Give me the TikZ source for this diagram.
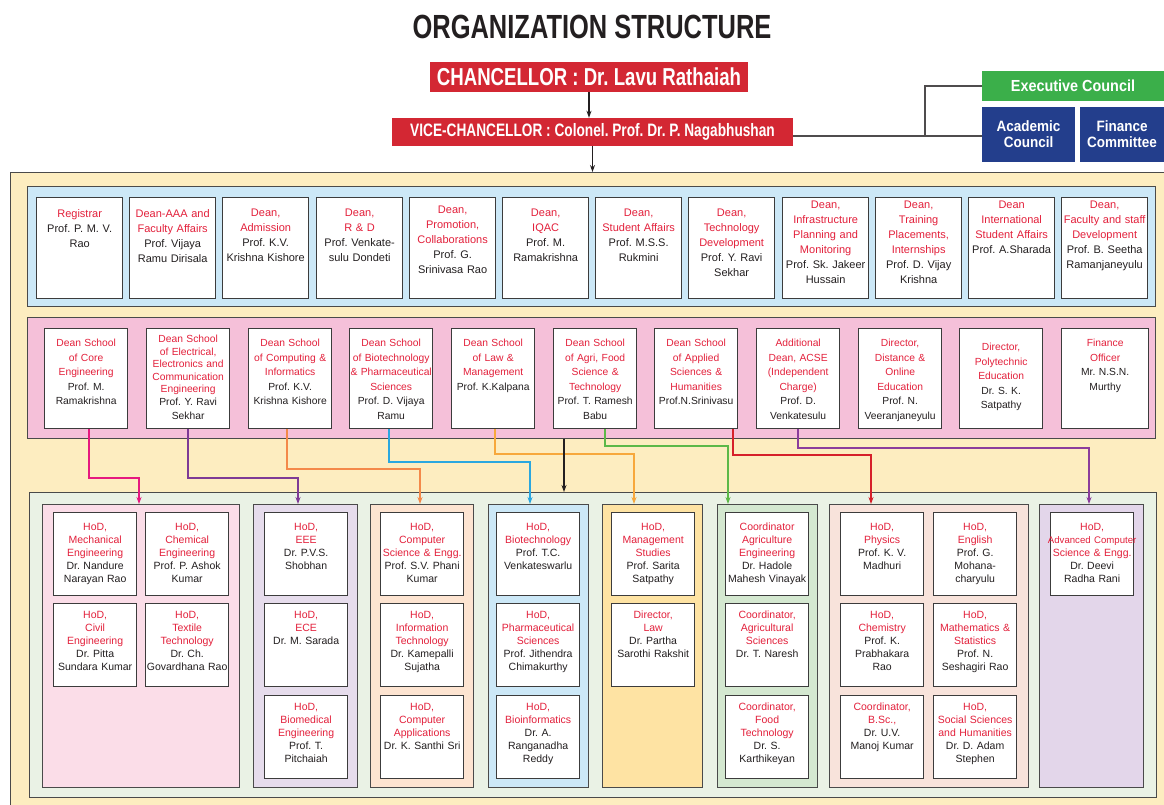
\documentclass[tikz,border=0pt]{standalone}
\usepackage{fontspec}
\setmainfont{Liberation Sans}
\newfontfamily\cond[FakeStretch=0.76]{Liberation Sans}
\newfontfamily\semicond[FakeStretch=0.9]{Liberation Sans}
\usetikzlibrary{arrows.meta}
\frenchspacing
\definecolor{ink}{HTML}{231F20}
\definecolor{hred}{HTML}{E3203B}
\definecolor{boxred}{HTML}{D32733}
\definecolor{exgreen}{HTML}{3BAF4A}
\definecolor{acblue}{HTML}{233E8C}
\definecolor{frameY}{HTML}{FDEDC0}
\definecolor{pBlue}{HTML}{CCE8F7}
\definecolor{pPink}{HTML}{F5C0D9}
\definecolor{pGreen}{HTML}{EAF2E5}
\definecolor{gPink}{HTML}{FBDDE8}
\definecolor{gLav}{HTML}{E6DCEC}
\definecolor{gPeach}{HTML}{FDE4D1}
\definecolor{gBlue}{HTML}{CCE8F7}
\definecolor{gYel}{HTML}{FEE3A3}
\definecolor{gGreen}{HTML}{D4E8D0}
\definecolor{gRose}{HTML}{F8E3DB}
\definecolor{gLavB}{HTML}{E3D6EA}
\definecolor{cline}{HTML}{3C3C3C}
\definecolor{pline}{HTML}{4A4A4A}
\definecolor{kMag}{HTML}{E6197F}
\definecolor{kPur}{HTML}{7E3A96}
\definecolor{kOra}{HTML}{F4894A}
\definecolor{kBlu}{HTML}{2AA7DF}
\definecolor{kLOra}{HTML}{F7A83C}
\definecolor{kGrn}{HTML}{5DB848}
\definecolor{kRed}{HTML}{D6202A}
\definecolor{kPurB}{HTML}{8B3D9C}
\newcommand\R{\color{hred}}
\newcommand\K{\color{ink}}
% rectangle node: style, name, x, y, w, h
\newcommand\rect[6]{\node[#1, anchor=north west, minimum width=#5pt, minimum height=#6pt] (#2) at (#3,#4) {};}
% row 1 card: name, x, offset, text
\newcommand\cardA[4]{\node[card, anchor=north west, minimum width=86pt, minimum height=101pt] (#1) at (#2,197) {};
  \node[ctxt, anchor=north, text width=92pt, font=\fontsize{11}{15}\selectfont] (#1t) at ([yshift=-#3pt]#1.north) {#4};}
% row 2 card: name, x, width, offset, text
\newcommand\cardB[5]{\node[card, anchor=north west, minimum width=#3pt, minimum height=100pt] (#1) at (#2,328) {};
  \node[ctxt, anchor=north, text width=90pt, font=\fontsize{10.3}{14.5}\selectfont] (#1t) at ([yshift=-#4pt]#1.north) {#5};}
% row 3 card: name, x, y, offset, text
\newcommand\cardC[5]{\node[card, anchor=north west, minimum width=83pt, minimum height=83pt] (#1) at (#2,#3) {};
  \node[ctxt, anchor=north, text width=90pt, font=\fontsize{10.5}{13}\selectfont] (#1t) at ([yshift=-#4pt]#1.north) {#5};}
\begin{document}
\begin{tikzpicture}[x=1pt,y=-1pt,
  panel/.style={draw=pline, line width=0.8pt, inner sep=0pt},
  card/.style={draw=cline, line width=1.3pt, fill=white, inner sep=0pt},
  ctxt/.style={inner sep=0pt, align=center, text=ink},
  headbox/.style={inner sep=0pt, text=white, align=center},
  conn/.style={line width=1.1pt, -{Stealth[length=7pt,width=5pt]}},
  tieline/.style={draw=ink!80, line width=1.3pt}]
\useasboundingbox (0,0) rectangle (1164,805);

% title
\node[inner sep=0pt, text=ink, font=\cond\bfseries\fontsize{33.5}{36}\selectfont] (title) at (592,27) {ORGANIZATION STRUCTURE};

% top boxes
\node[headbox, fill=boxred, minimum width=318pt, minimum height=30pt, font=\cond\bfseries\fontsize{24.5}{26}\selectfont] (ch) at (589,77) {CHANCELLOR : Dr. Lavu Rathaiah};
\node[headbox, fill=boxred, minimum width=401pt, minimum height=28pt, font=\cond\bfseries\fontsize{18}{20}\selectfont] (vc) at (592.5,132) {VICE-CHANCELLOR : Colonel. Prof. Dr. P. Nagabhushan};
\node[headbox, fill=exgreen, minimum width=182pt, minimum height=30pt, font=\semicond\bfseries\fontsize{16}{18}\selectfont] (ex) at (1073,86) {Executive Council};
\node[headbox, fill=acblue, minimum width=93pt, minimum height=55pt, font=\semicond\bfseries\fontsize{15}{16}\selectfont] (ac) at (1028.5,134.5) {Academic\\Council};
\node[headbox, fill=acblue, minimum width=84pt, minimum height=55pt, font=\semicond\bfseries\fontsize{15}{16}\selectfont] (fc) at (1122,134.5) {Finance\\Committee};

% frames and panels
\rect{panel, fill=frameY}{fr}{10}{172}{1162}{640}
\rect{panel, fill=pBlue}{p1}{27}{186}{1128}{120}
\rect{panel, fill=pPink}{p2}{27}{317}{1128}{121}
\rect{panel, fill=pGreen}{p3}{29}{492}{1127}{305}
\rect{panel, fill=gPink}{g1}{42}{504}{197}{283}
\rect{panel, fill=gLav}{g2}{253}{504}{104}{283}
\rect{panel, fill=gPeach}{g3}{370}{504}{103}{283}
\rect{panel, fill=gBlue}{g4}{488}{504}{100}{283}
\rect{panel, fill=gYel}{g5}{602}{504}{100}{283}
\rect{panel, fill=gGreen}{g6}{717}{504}{100}{283}
\rect{panel, fill=gRose}{g7}{829}{504}{199}{283}
\rect{panel, fill=gLavB}{g8}{1039}{504}{104}{283}

% top connectors
\draw[conn, ink] (ch.south) -- (ch.south |- vc.north);
\draw[conn, ink] (vc.south) -- (vc.south |- fr.north);
\coordinate (tj) at (925,136);
\draw[tieline] (vc.east |- tj) -- (ac.west |- tj);
\draw[tieline] (tj) |- (ex.west);

% row 1
\cardA{a1}{36}{12}{\R Registrar\\\K Prof. P. M. V.\\Rao}
\cardA{a2}{129}{12}{\R Dean-AAA and\\Faculty Affairs\\\K Prof. Vijaya\\Ramu Dirisala}
\cardA{a3}{222}{12}{\R Dean,\\Admission\\\K Prof. K.V.\\Krishna Kishore}
\cardA{a4}{316}{12}{\R Dean,\\R \& D\\\K Prof. Venkate-\\sulu Dondeti}
\cardA{a5}{409}{9}{\R Dean,\\Promotion,\\Collaborations\\\K Prof. G.\\Srinivasa Rao}
\cardA{a6}{502}{12}{\R Dean,\\IQAC\\\K Prof. M.\\Ramakrishna}
\cardA{a7}{595}{12}{\R Dean,\\Student Affairs\\\K Prof. M.S.S.\\Rukmini}
\cardA{a8}{688}{12}{\R Dean,\\Technology\\Development\\\K Prof. Y. Ravi\\Sekhar}
\cardA{a9}{782}{4}{\R Dean,\\Infrastructure\\Planning and\\Monitoring\\\K Prof. Sk. Jakeer\\Hussain}
\cardA{a10}{875}{4}{\R Dean,\\Training\\Placements,\\Internships\\\K Prof. D. Vijay\\Krishna}
\cardA{a11}{968}{4}{\R Dean\\International\\Student Affairs\\\K Prof. A.Sharada}
\cardA{a12}{1061}{4}{\R Dean,\\Faculty and staff\\Development\\\K Prof. B. Seetha\\Ramanjaneyulu}

% row 2
\cardB{b1}{44}{83}{11}{\R Dean School\\of Core\\Engineering\\\K Prof. M.\\Ramakrishna}
\cardB{b2}{146}{83}{7}{\fontsize{10.3}{12.5}\selectfont\R Dean School\\of Electrical,\\Electronics and\\Communication\\Engineering\\\K Prof. Y. Ravi\\Sekhar}
\cardB{b3}{248}{83}{11}{\R Dean School\\of Computing \&\\Informatics\\\K Prof. K.V.\\Krishna Kishore}
\cardB{b4}{349}{83}{11}{\R Dean School\\of Biotechnology\\\& Pharmaceutical\\Sciences\\\K Prof. D. Vijaya\\Ramu}
\cardB{b5}{451}{83}{11}{\R Dean School\\of Law \&\\Management\\\K Prof. K.Kalpana}
\cardB{b6}{553}{83}{11}{\R Dean School\\of Agri, Food\\Science \&\\Technology\\\K Prof. T. Ramesh\\Babu}
\cardB{b7}{654}{83}{11}{\R Dean School\\of Applied\\Sciences \&\\Humanities\\\K Prof.N.Srinivasu}
\cardB{b8}{756}{83}{11}{\R Additional\\Dean, ACSE\\(Independent\\Charge)\\\K Prof. D.\\Venkatesulu}
\cardB{b9}{858}{83}{11}{\R Director,\\Distance \&\\Online\\Education\\\K Prof. N.\\Veeranjaneyulu}
\cardB{b10}{959}{83}{15}{\R Director,\\Polytechnic\\Education\\\K Dr. S. K.\\Satpathy}
\cardB{b11}{1061}{87}{11}{\R Finance\\Officer\\\K Mr. N.S.N.\\Murthy}

% row 3
\cardC{c1a}{53}{512}{11}{\R HoD,\\Mechanical\\Engineering\\\K Dr. Nandure\\Narayan Rao}
\cardC{c1b}{145}{512}{11}{\R HoD,\\Chemical\\Engineering\\\K Prof. P. Ashok\\Kumar}
\cardC{c1c}{53}{603}{8}{\R HoD,\\Civil\\Engineering\\\K Dr. Pitta\\Sundara Kumar}
\cardC{c1d}{145}{603}{8}{\R HoD,\\Textile\\Technology\\\K Dr. Ch.\\Govardhana Rao}
\cardC{c2a}{264}{512}{11}{\R HoD,\\EEE\\\K Dr. P.V.S.\\Shobhan}
\cardC{c2b}{264}{603}{8}{\R HoD,\\ECE\\\K Dr. M. Sarada}
\cardC{c2c}{264}{695}{8}{\R HoD,\\Biomedical\\Engineering\\\K Prof. T.\\Pitchaiah}
\cardC{c3a}{380}{512}{11}{\R HoD,\\Computer\\Science \& Engg.\\\K Prof. S.V. Phani\\Kumar}
\cardC{c3b}{380}{603}{8}{\R HoD,\\Information\\Technology\\\K Dr. Kamepalli\\Sujatha}
\cardC{c3c}{380}{695}{8}{\R HoD,\\Computer\\Applications\\\K Dr. K. Santhi Sri}
\cardC{c4a}{496}{512}{11}{\R HoD,\\Biotechnology\\\K Prof. T.C.\\Venkateswarlu}
\cardC{c4b}{496}{603}{8}{\R HoD,\\Pharmaceutical\\Sciences\\\K Prof. Jithendra\\Chimakurthy}
\cardC{c4c}{496}{695}{8}{\R HoD,\\Bioinformatics\\\K Dr. A.\\Ranganadha\\Reddy}
\cardC{c5a}{611}{512}{11}{\R HoD,\\Management\\Studies\\\K Prof. Sarita\\Satpathy}
\cardC{c5b}{611}{603}{8}{\R Director,\\Law\\\K Dr. Partha\\Sarothi Rakshit}
\cardC{c6a}{725}{512}{11}{\R Coordinator\\Agriculture\\Engineering\\\K Dr. Hadole\\Mahesh Vinayak}
\cardC{c6b}{725}{603}{8}{\R Coordinator,\\Agricultural\\Sciences\\\K Dr. T. Naresh}
\cardC{c6c}{725}{695}{8}{\R Coordinator,\\Food\\Technology\\\K Dr. S.\\Karthikeyan}
\cardC{c7a}{840}{512}{11}{\R HoD,\\Physics\\\K Prof. K. V.\\Madhuri}
\cardC{c7b}{933}{512}{11}{\R HoD,\\English\\\K Prof. G.\\Mohana-\\charyulu}
\cardC{c7c}{840}{603}{8}{\R HoD,\\Chemistry\\\K Prof. K.\\Prabhakara\\Rao}
\cardC{c7d}{933}{603}{8}{\R HoD,\\Mathematics \&\\Statistics\\\K Prof. N.\\Seshagiri Rao}
\cardC{c7e}{840}{695}{8}{\R Coordinator,\\B.Sc.,\\\K Dr. U.V.\\Manoj Kumar}
\cardC{c7f}{933}{695}{8}{\R HoD,\\Social Sciences\\and Humanities\\\K Dr. D. Adam\\Stephen}
\cardC{c8a}{1050}{512}{11}{\R HoD,\\{\fontsize{9.6}{13}\selectfont Advanced Computer}\\Science \& Engg.\\\K Dr. Deevi\\Radha Rani}

% school-to-department connectors
\coordinate (k1a) at (89,478);  \coordinate (k1b) at (139,478);
\coordinate (k2a) at (188,478); \coordinate (k2b) at (298,478);
\coordinate (k3a) at (287,469); \coordinate (k3b) at (420,469);
\coordinate (k4a) at (389,462); \coordinate (k4b) at (530,462);
\coordinate (k6a) at (495,454); \coordinate (k6b) at (634,454);
\coordinate (k7a) at (605,446); \coordinate (k7b) at (728,446);
\coordinate (k8a) at (733,455); \coordinate (k8b) at (871,455);
\coordinate (k9a) at (798,448); \coordinate (k9b) at (1089,448);
\coordinate (k5) at (564,460);
\draw[conn, kMag] (b1.south -| k1a) -- (k1a) -- (k1b) -- (g1.north -| k1b);
\draw[conn, kPur] (b2.south -| k2a) -- (k2a) -- (k2b) -- (g2.north -| k2b);
\draw[conn, kOra] (b3.south -| k3a) -- (k3a) -- (k3b) -- (g3.north -| k3b);
\draw[conn, kBlu] (b4.south -| k4a) -- (k4a) -- (k4b) -- (g4.north -| k4b);
\draw[conn, kLOra] (b5.south -| k6a) -- (k6a) -- (k6b) -- (g5.north -| k6b);
\draw[conn, kGrn] (b6.south -| k7a) -- (k7a) -- (k7b) -- (g6.north -| k7b);
\draw[conn, kRed] (b7.south -| k8a) -- (k8a) -- (k8b) -- (g7.north -| k8b);
\draw[conn, kPurB] (b8.south -| k9a) -- (k9a) -- (k9b) -- (g8.north -| k9b);
\draw[conn, ink] (p2.south -| k5) -- (p3.north -| k5);
\end{tikzpicture}
\end{document}
